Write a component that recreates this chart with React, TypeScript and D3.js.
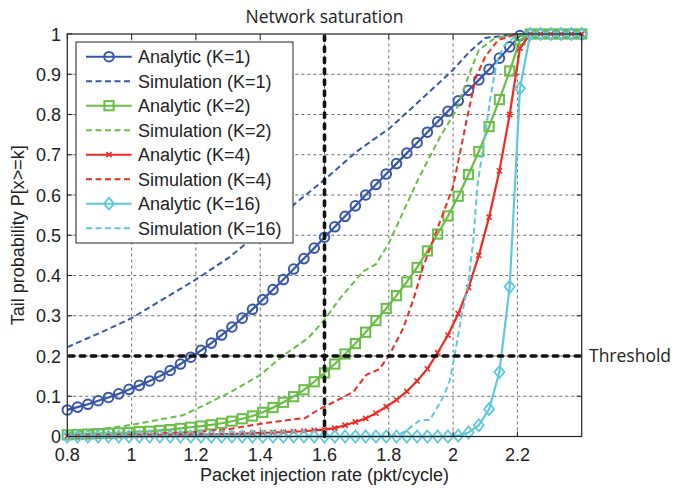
import React from "react";
import * as d3 from "d3";

// Injection-rate sampling grid of the analytic curves (pkt/cycle)
const rates: number[] = d3.range(0, 51).map((i) => +(0.8 + i * 0.032).toFixed(3));

const analyticK1 = [
  0.066, 0.073, 0.080, 0.089, 0.097, 0.106, 0.117, 0.127, 0.138, 0.150,
  0.164, 0.180, 0.197, 0.214, 0.232, 0.252, 0.272, 0.294, 0.316, 0.340,
  0.365, 0.390, 0.416, 0.442, 0.468, 0.495, 0.521, 0.547, 0.573, 0.600,
  0.626, 0.652, 0.678, 0.704, 0.730, 0.756, 0.782, 0.808, 0.834, 0.860,
  0.886, 0.912, 0.940, 0.968, 0.996, 1, 1, 1, 1, 1, 1,
];
const analyticK2 = [
  0.004, 0.005, 0.006, 0.007, 0.008, 0.009, 0.010, 0.012, 0.013, 0.015,
  0.017, 0.020, 0.023, 0.026, 0.029, 0.033, 0.038, 0.044, 0.051, 0.060,
  0.072, 0.085, 0.099, 0.116, 0.136, 0.158, 0.180, 0.205, 0.231, 0.259,
  0.288, 0.318, 0.350, 0.384, 0.420, 0.461, 0.503, 0.548, 0.597, 0.651,
  0.708, 0.770, 0.837, 0.908, 0.985, 1, 1, 1, 1, 1, 1,
];
const analyticK4 = [
  0.001, 0.001, 0.001, 0.001, 0.002, 0.002, 0.002, 0.002, 0.003, 0.003,
  0.003, 0.004, 0.004, 0.005, 0.005, 0.006, 0.006, 0.007, 0.008, 0.009,
  0.010, 0.011, 0.012, 0.013, 0.015, 0.017, 0.021, 0.028, 0.036, 0.045,
  0.058, 0.074, 0.091, 0.112, 0.138, 0.168, 0.208, 0.252, 0.305, 0.370,
  0.450, 0.545, 0.660, 0.800, 0.965, 1, 1, 1, 1, 1, 1,
];
const analyticK16 = [
  0, 0, 0, 0, 0, 0, 0, 0, 0, 0,
  0, 0, 0, 0, 0, 0, 0, 0, 0, 0,
  0, 0, 0, 0, 0, 0, 0, 0, 0, 0,
  0, 0, 0, 0, 0, 0, 0, 0, 0.002, 0.010,
  0.028, 0.068, 0.160, 0.372, 0.865, 1, 1, 1, 1, 1, 1,
];

// Simulation curves (own sampling points)
const simK1X = [0.8, 0.9, 1.0, 1.1, 1.2, 1.3, 1.4, 1.5, 1.6, 1.7, 1.76, 1.8, 1.9, 2.0, 2.05, 2.1, 2.2, 2.4];
const simK1Y = [0.222, 0.257, 0.294, 0.342, 0.390, 0.443, 0.508, 0.573, 0.638, 0.708, 0.742, 0.764, 0.837, 0.911, 0.955, 0.99, 1, 1];
const simK2X = [0.8, 0.9, 1.0, 1.1, 1.16, 1.2, 1.3, 1.4, 1.47, 1.55, 1.6, 1.65, 1.72, 1.76, 1.8, 1.89, 1.96, 2.01, 2.05, 2.08, 2.13, 2.2, 2.4];
const simK2Y = [0.008, 0.018, 0.029, 0.044, 0.053, 0.068, 0.107, 0.153, 0.2, 0.245, 0.29, 0.345, 0.41, 0.428, 0.48, 0.637, 0.745, 0.811, 0.9, 0.96, 0.99, 1, 1];
const simK4X = [0.8, 1.0, 1.2, 1.3, 1.42, 1.54, 1.58, 1.62, 1.69, 1.73, 1.77, 1.8, 1.845, 1.876, 1.907, 1.938, 2.0, 2.04, 2.07, 2.1, 2.14, 2.2, 2.4];
const simK4Y = [0.002, 0.005, 0.011, 0.018, 0.034, 0.046, 0.066, 0.082, 0.111, 0.153, 0.167, 0.2, 0.269, 0.339, 0.422, 0.488, 0.621, 0.778, 0.89, 0.944, 0.985, 1, 1];
const simK16X = [0.8, 1.8, 1.83, 1.856, 1.898, 1.928, 1.97, 1.99, 2.006, 2.026, 2.047, 2.063, 2.075, 2.09, 2.115, 2.135, 2.156, 2.2, 2.4];
const simK16Y = [0, 0, 0.004, 0.016, 0.041, 0.041, 0.099, 0.14, 0.207, 0.298, 0.38, 0.488, 0.62, 0.7, 0.836, 0.927, 0.968, 1, 1];

const xTicks = [0.8, 1.0, 1.2, 1.4, 1.6, 1.8, 2.0, 2.2];
const yTicks = [0, 0.1, 0.2, 0.3, 0.4, 0.5, 0.6, 0.7, 0.8, 0.9, 1];
const threshold = 0.2;
const saturationRate = 1.6;

const BLUE = "#3756a8";
const GREEN = "#68bd45";
const RED = "#ee2a24";
const CYAN = "#5ec8db";

type Marker = "circle" | "square" | "x" | "diamond";

const series = [
  { label: "Analytic (K=1)", color: BLUE, dashed: false, marker: "circle" as Marker, xs: rates, ys: analyticK1 },
  { label: "Simulation (K=1)", color: BLUE, dashed: true, marker: null, xs: simK1X, ys: simK1Y },
  { label: "Analytic (K=2)", color: GREEN, dashed: false, marker: "square" as Marker, xs: rates, ys: analyticK2 },
  { label: "Simulation (K=2)", color: GREEN, dashed: true, marker: null, xs: simK2X, ys: simK2Y },
  { label: "Analytic (K=4)", color: RED, dashed: false, marker: "x" as Marker, xs: rates, ys: analyticK4 },
  { label: "Simulation (K=4)", color: RED, dashed: true, marker: null, xs: simK4X, ys: simK4Y },
  { label: "Analytic (K=16)", color: CYAN, dashed: false, marker: "diamond" as Marker, xs: rates, ys: analyticK16 },
  { label: "Simulation (K=16)", color: CYAN, dashed: true, marker: null, xs: simK16X, ys: simK16Y },
];

function MarkerShape({ type, cx, cy, color }: { type: Marker; cx: number; cy: number; color: string }) {
  if (type === "circle") return <circle cx={cx} cy={cy} r={4.8} fill="none" stroke={color} strokeWidth={2} />;
  if (type === "square") return <rect x={cx - 4.6} y={cy - 4.6} width={9.2} height={9.2} fill="none" stroke={color} strokeWidth={2} />;
  if (type === "diamond")
    return <path d={`M${cx},${cy - 6} L${cx + 5},${cy} L${cx},${cy + 6} L${cx - 5},${cy} Z`} fill="none" stroke={color} strokeWidth={1.8} />;
  return <path d={`M${cx - 2.6},${cy - 2.6} L${cx + 2.6},${cy + 2.6} M${cx - 2.6},${cy + 2.6} L${cx + 2.6},${cy - 2.6}`} stroke={color} strokeWidth={1.6} />;
}

export default function App() {
  const W = 675, H = 489;
  const x = d3.scaleLinear().domain([0.8, 2.4]).range([67.3, 581.7]);
  const y = d3.scaleLinear().domain([0, 1]).range([436.5, 34]);
  const line = d3.line<[number, number]>().x((d) => x(d[0])).y((d) => y(d[1]));
  const [x0, x1] = x.range();
  const [y0, y1] = y.range();
  const tickFont = "'Liberation Sans', Arial, sans-serif";
  const noteFont = "'Open Sans', 'Noto Sans', sans-serif";

  const legend = { x: 76, y: 42, w: 217, h: 201, row: 24.5, first: 56.7 };

  return (
    <svg width={W} height={H} style={{ position: "absolute", left: 0, top: 0, background: "#fff" }}>
      <rect x={0} y={0} width={W} height={H} fill="#fff" />
      {/* grid */}
      {xTicks.slice(1).map((t) => (
        <line key={"gx" + t} x1={x(t)} x2={x(t)} y1={y0} y2={y1} stroke="#444" strokeWidth={0.8} strokeDasharray="3,3" />
      ))}
      {yTicks.slice(1, -1).map((t) => (
        <line key={"gy" + t} x1={x0} x2={x1} y1={y(t)} y2={y(t)} stroke="#444" strokeWidth={0.8} strokeDasharray="3,3" />
      ))}
      {/* series */}
      {series.map((s, i) => {
        const pts: [number, number][] = s.xs.map((v, j) => [v, s.ys[j]]);
        return (
          <g key={i}>
            <path d={line(pts) || ""} fill="none" stroke={s.color} strokeWidth={s.dashed ? 2 : 2.2} strokeDasharray={s.dashed ? "6,3.5" : undefined} />
            {s.marker && pts.map((p, j) => <MarkerShape key={j} type={s.marker as Marker} cx={x(p[0])} cy={y(p[1])} color={s.color} />)}
          </g>
        );
      })}
      {/* threshold & saturation */}
      <line x1={x0 + 2} x2={x1} y1={y(threshold)} y2={y(threshold)} stroke="#111" strokeWidth={3.6} strokeLinecap="round" strokeDasharray="4.5,6.5" />
      <line x1={x(saturationRate)} x2={x(saturationRate)} y1={y0} y2={y1 + 2} stroke="#111" strokeWidth={3.6} strokeLinecap="round" strokeDasharray="4.5,6.5" />
      <text x={589} y={y(threshold) + 6} fontFamily={noteFont} fontSize={17.5} fill="#222">Threshold</text>
      <text x={x(saturationRate)} y={23} textAnchor="middle" fontFamily={noteFont} fontSize={17.5} fill="#222">Network saturation</text>
      {/* frame */}
      <rect x={x0} y={y1} width={x1 - x0} height={y0 - y1} fill="none" stroke="#222" strokeWidth={1.2} />
      {xTicks.map((t) => (
        <g key={"tx" + t}>
          <line x1={x(t)} x2={x(t)} y1={y0} y2={y0 - 5} stroke="#222" />
          <line x1={x(t)} x2={x(t)} y1={y1} y2={y1 + 5} stroke="#222" />
          <text x={x(t)} y={y0 + 24} textAnchor="middle" fontFamily={tickFont} fontSize={18} fill="#222">{d3.format("~g")(t)}</text>
        </g>
      ))}
      {yTicks.map((t) => (
        <g key={"ty" + t}>
          <line x1={x0} x2={x0 + 5} y1={y(t)} y2={y(t)} stroke="#222" />
          <line x1={x1} x2={x1 - 5} y1={y(t)} y2={y(t)} stroke="#222" />
          <text x={61} y={y(t) + 6.5} textAnchor="end" fontFamily={tickFont} fontSize={18} fill="#222">{d3.format("~g")(t)}</text>
        </g>
      ))}
      <text x={(x0 + x1) / 2} y={481} textAnchor="middle" fontFamily={tickFont} fontSize={18} fill="#222">Packet injection rate (pkt/cycle)</text>
      <text transform={`translate(24,${(y0 + y1) / 2}) rotate(-90)`} textAnchor="middle" fontFamily={tickFont} fontSize={18} fill="#222">Tail probability P[x&gt;=k]</text>
      {/* legend */}
      <rect x={legend.x} y={legend.y} width={legend.w} height={legend.h} fill="#fff" stroke="#222" strokeWidth={1} />
      {series.map((s, i) => {
        const cy = legend.first + i * legend.row;
        return (
          <g key={"lg" + i}>
            <line x1={86} x2={131.7} y1={cy} y2={cy} stroke={s.color} strokeWidth={2} strokeDasharray={s.dashed ? "6,3.5" : undefined} />
            {s.marker && <MarkerShape type={s.marker as Marker} cx={109} cy={cy} color={s.color} />}
            <text x={138} y={cy + 6.5} fontFamily={tickFont} fontSize={18} fill="#222">{s.label}</text>
          </g>
        );
      })}
    </svg>
  );
}
